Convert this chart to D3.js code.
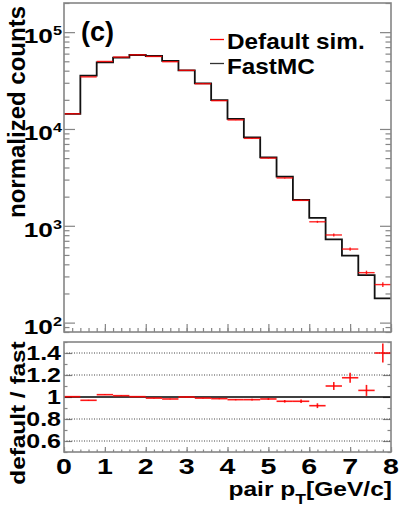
<!DOCTYPE html>
<html>
<head>
<meta charset="utf-8">
<script src="https://cdn.jsdelivr.net/npm/d3@7"></script>
<style>
  body { margin: 0; background: #fff; }
  svg { display: block; }
  text { font-family: "Liberation Sans", Arial, Helvetica, sans-serif; font-weight: bold; fill: #000; }
</style>
</head>
<body>
<svg id="chart" width="399" height="516"></svg>
<script>
// bin edges in pair pT [GeV/c]
var binEdges = [0, 0.4, 0.8, 1.2, 1.6, 2.0, 2.4, 2.8, 3.2, 3.6, 4.0, 4.4, 4.8, 5.2, 5.6, 6.0, 6.4, 6.8, 7.2, 7.6, 8.0];

// normalized counts per bin
var fastMC = [14300, 35600, 48800, 54600, 58100, 56700, 50400, 40300, 29600, 19900,
  12700, 8190, 5090, 3220, 1850, 1205, 723, 491, 310, 178];
var defaultSim = [14350, 34500, 49800, 55300, 58300, 56100, 49500, 40300, 29300, 19600,
  12400, 8000, 5000, 3120, 1830, 1100, 804, 575, 328, 247];
var defaultErr = [60, 110, 150, 160, 170, 160, 150, 130, 110, 90,
  70, 55, 45, 35, 28, 26, 30, 22, 16, 14];

// default / fast
var ratio = [1.003, 0.97, 1.021, 1.012, 1.003, 0.99, 0.982, 1.0, 0.99, 0.985,
  0.976, 0.976, 0.982, 0.961, 0.961, 0.921, 1.10, 1.175, 1.06, 1.40];
var ratioErr = [0.004, 0.004, 0.003, 0.003, 0.003, 0.003, 0.003, 0.004, 0.004, 0.005,
  0.006, 0.007, 0.009, 0.012, 0.016, 0.022, 0.036, 0.045, 0.05, 0.086];

var xTicks = [0, 1, 2, 3, 4, 5, 6, 7, 8];
var countTicks = [100, 1000, 10000, 100000];
var countExp = ["2", "3", "4", "5"];
var ratioTicks = [0.6, 0.8, 1, 1.2, 1.4];
var ratioLabels = ["0.6", "0.8", "1", "1.2", "1.4"];

var svg = d3.select("#chart");
var frameCol = "#858585";

var x = d3.scaleLinear().domain([0, 8]).range([64, 391]);
var yTop = d3.scaleLog().domain([80, 2e5]).range([332, 3]);
var yRat = d3.scaleLinear().domain([0.5, 1.5]).range([452, 342]);

var xMinor = d3.range(0, 8.01, 0.2);

function ticks(g, axis) {
  g.call(axis);
  g.select(".domain").remove();
  g.selectAll("line").attr("stroke", frameCol).attr("stroke-width", 1.2);
  g.selectAll("text").remove();
}

// ---------- top panel ----------
var topG = svg.append("g");

var logMinor = yTop.ticks().filter(d => countTicks.indexOf(d) < 0);
topG.append("g").attr("transform", "translate(64,0)")
  .call(ticks, d3.axisLeft(yTop).tickValues(countTicks).tickSize(-11));
topG.append("g").attr("transform", "translate(64,0)")
  .call(ticks, d3.axisLeft(yTop).tickValues(logMinor).tickSize(-5.5));
topG.append("g").attr("transform", "translate(391,0)")
  .call(ticks, d3.axisRight(yTop).tickValues(countTicks).tickSize(-11));
topG.append("g").attr("transform", "translate(391,0)")
  .call(ticks, d3.axisRight(yTop).tickValues(logMinor).tickSize(-5.5));
topG.append("g").attr("transform", "translate(0,332)")
  .call(ticks, d3.axisBottom(x).tickValues(xTicks).tickSize(-8));
topG.append("g").attr("transform", "translate(0,332)")
  .call(ticks, d3.axisBottom(x).tickValues(xMinor).tickSize(-4));

// FastMC step histogram
var step = d3.line().curve(d3.curveStepAfter).x(d => x(d[0])).y(d => yTop(d[1]));
var stepPts = fastMC.map((v, i) => [binEdges[i], v]);
stepPts.push([binEdges[binEdges.length - 1], fastMC[fastMC.length - 1]]);
topG.append("path").attr("d", step(stepPts))
  .attr("fill", "none").attr("stroke", "#111").attr("stroke-width", 1.8);

// default sim points
var pts = topG.append("g").attr("stroke", "#ff0000").attr("stroke-width", 1.4).attr("stroke-opacity", 0.85);
defaultSim.forEach(function(v, i) {
  var xc = (binEdges[i] + binEdges[i + 1]) / 2;
  pts.append("line").attr("x1", x(binEdges[i])).attr("x2", x(binEdges[i + 1]))
    .attr("y1", yTop(v)).attr("y2", yTop(v));
  pts.append("line").attr("x1", x(xc)).attr("x2", x(xc))
    .attr("y1", yTop(v - defaultErr[i])).attr("y2", yTop(v + defaultErr[i]));
});

topG.append("rect").attr("x", 64).attr("y", 3).attr("width", 327).attr("height", 329)
  .attr("fill", "none").attr("stroke", frameCol).attr("stroke-width", 1.6);

// y labels 10^n
countTicks.forEach(function(v, i) {
  var t = topG.append("text")
    .attr("transform", "translate(62," + (yTop(v) + 11) + ") scale(1.25,1)")
    .attr("text-anchor", "end").style("font-size", "21px");
  t.append("tspan").text("10");
  t.append("tspan").attr("dy", -8).style("font-size", "13px").text(countExp[i]);
});

topG.append("text").attr("transform", "translate(25,112) rotate(-90)")
  .attr("text-anchor", "middle").style("font-size", "24px").text("normalized counts");

topG.append("text").attr("x", 81).attr("y", 41).style("font-size", "27px").text("(c)");

// legend
topG.append("line").attr("x1", 210).attr("x2", 224).attr("y1", 39.5).attr("y2", 39.5)
  .attr("stroke", "#ff0000").attr("stroke-width", 1.3);
topG.append("line").attr("x1", 210).attr("x2", 224).attr("y1", 63.5).attr("y2", 63.5)
  .attr("stroke", "#333").attr("stroke-width", 1.3);
topG.append("text").attr("transform", "translate(227,48.5) scale(1.08,1)")
  .style("font-size", "22.5px").text("Default sim.");
topG.append("text").attr("transform", "translate(227,73.5) scale(1.08,1)")
  .style("font-size", "22.5px").text("FastMC");

// ---------- ratio panel ----------
var botG = svg.append("g");

var ratMinor = d3.range(0.5, 1.51, 0.1).filter(d => ratioTicks.every(t => Math.abs(t - d) > 1e-6));
botG.append("g").attr("transform", "translate(64,0)")
  .call(ticks, d3.axisLeft(yRat).tickValues(ratioTicks).tickSize(-8));
botG.append("g").attr("transform", "translate(64,0)")
  .call(ticks, d3.axisLeft(yRat).tickValues(ratMinor).tickSize(-3.5));
botG.append("g").attr("transform", "translate(391,0)")
  .call(ticks, d3.axisRight(yRat).tickValues(ratioTicks).tickSize(-8));
botG.append("g").attr("transform", "translate(391,0)")
  .call(ticks, d3.axisRight(yRat).tickValues(ratMinor).tickSize(-3.5));
botG.append("g").attr("transform", "translate(0,452)")
  .call(ticks, d3.axisBottom(x).tickValues(xTicks).tickSize(-5));
botG.append("g").attr("transform", "translate(0,452)")
  .call(ticks, d3.axisBottom(x).tickValues(xMinor).tickSize(-2.5));

// dotted grid
botG.selectAll(".grid").data(ratioTicks.filter(d => d !== 1)).join("line")
  .attr("x1", 64).attr("x2", 391).attr("y1", d => yRat(d)).attr("y2", d => yRat(d))
  .attr("stroke", "#444").attr("stroke-width", 1).attr("stroke-dasharray", "1,1.5");
botG.append("line").attr("x1", 64).attr("x2", 391).attr("y1", yRat(1)).attr("y2", yRat(1))
  .attr("stroke", "#000").attr("stroke-width", 1.4);

var rp = botG.append("g").attr("stroke", "#ff0000").attr("stroke-width", 1.6).attr("stroke-opacity", 0.9);
ratio.forEach(function(v, i) {
  var xc = (binEdges[i] + binEdges[i + 1]) / 2;
  rp.append("line").attr("x1", x(binEdges[i])).attr("x2", x(binEdges[i + 1]))
    .attr("y1", yRat(v)).attr("y2", yRat(v));
  rp.append("line").attr("x1", x(xc)).attr("x2", x(xc))
    .attr("y1", yRat(v - ratioErr[i])).attr("y2", yRat(v + ratioErr[i]));
});

botG.append("rect").attr("x", 64).attr("y", 342).attr("width", 327).attr("height", 110)
  .attr("fill", "none").attr("stroke", frameCol).attr("stroke-width", 1.6);

ratioTicks.forEach(function(v, i) {
  botG.append("text")
    .attr("transform", "translate(61," + (yRat(v) + 7) + ") scale(1.25,1)")
    .attr("text-anchor", "end").style("font-size", "20px").text(ratioLabels[i]);
});

xTicks.forEach(function(v) {
  botG.append("text")
    .attr("transform", "translate(" + x(v) + ",474) scale(1.3,1)")
    .attr("text-anchor", "middle").style("font-size", "22px").text(v);
});

botG.append("text").attr("transform", "translate(25,413) rotate(-90) scale(1.16,1)")
  .attr("text-anchor", "middle").style("font-size", "21px").text("default / fast");

var xt = botG.append("text").attr("transform", "translate(392,496) scale(1.17,1)")
  .attr("text-anchor", "end").style("font-size", "21px");
xt.append("tspan").text("pair p");
xt.append("tspan").attr("dy", 8).style("font-size", "15px").text("T");
xt.append("tspan").attr("dy", -8).text("[GeV/c]");
</script>
</body>
</html>
